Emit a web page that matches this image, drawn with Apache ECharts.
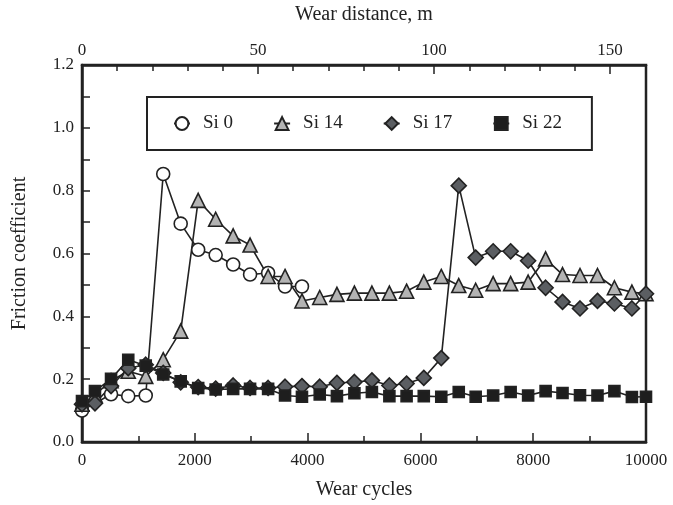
<!DOCTYPE html>
<html>
<head>
<meta charset="utf-8">
<script src="https://cdn.jsdelivr.net/npm/echarts@6/dist/echarts.min.js"></script>
<style>html,body{margin:0;padding:0;background:#fff;}#c{width:673px;height:505px;}</style>
</head>
<body>
<div id="c"></div>
<script>
var cycles = [0, 230, 515, 820, 1130, 1440, 1750, 2060, 2370, 2680, 2980, 3300, 3600, 3900, 4215, 4520, 4830, 5140, 5450, 5755, 6060, 6370, 6680, 6980, 7290, 7600, 7910, 8220, 8520, 8830, 9140, 9440, 9750, 10000];
var si0  = [0.10, null, 0.152, 0.146, 0.148, 0.853, 0.695, 0.612, 0.595, 0.565, 0.533, 0.538, 0.495, 0.495];
var si14 = [0.12, 0.15, 0.195, 0.225, 0.209, 0.262, 0.353, 0.769, 0.709, 0.656, 0.627, 0.527, 0.527, 0.449, 0.46, 0.47, 0.474, 0.474, 0.474, 0.48, 0.509, 0.527, 0.498, 0.483, 0.504, 0.504, 0.509, 0.583, 0.533, 0.53, 0.53, 0.491, 0.477, 0.472];
var si17 = [0.12, 0.123, 0.178, 0.235, 0.246, 0.22, 0.19, 0.175, 0.17, 0.18, 0.172, 0.172, 0.176, 0.178, 0.176, 0.188, 0.191, 0.196, 0.18, 0.186, 0.204, 0.267, 0.816, 0.587, 0.607, 0.607, 0.577, 0.491, 0.446, 0.425, 0.449, 0.441, 0.425, 0.472];
var si22 = [0.13, 0.162, 0.201, 0.262, 0.243, 0.215, 0.193, 0.172, 0.167, 0.169, 0.169, 0.169, 0.148, 0.144, 0.151, 0.146, 0.155, 0.159, 0.146, 0.146, 0.146, 0.144, 0.159, 0.144, 0.148, 0.159, 0.148, 0.162, 0.156, 0.149, 0.148, 0.162, 0.143, 0.144];
var seriesNames = ['Si 0', 'Si 14', 'Si 17', 'Si 22'];
var distanceMax = 160.2;

function pairs(vals) {
  var out = [];
  for (var i = 0; i < vals.length; i++) {
    if (vals[i] !== null && vals[i] !== undefined) out.push([cycles[i], vals[i]]);
  }
  return out;
}

var FONT = 'Liberation Serif';
var INK = '#222';
var styles = [
  {symbol: 'circle', size: 13, fill: '#ffffff'},
  {symbol: 'triangle', size: 14, fill: '#b3b3b3'},
  {symbol: 'diamond', size: 15, fill: '#5b5e62'},
  {symbol: 'rect', size: 11, fill: '#1e1e1e'}
];
var datasets = [si0, si14, si17, si22];

var series = datasets.map(function (d, k) {
  return {
    name: seriesNames[k],
    type: 'line',
    xAxisIndex: 0,
    yAxisIndex: 0,
    data: pairs(d),
    symbol: styles[k].symbol,
    symbolSize: styles[k].size,
    showAllSymbol: true,
    animation: false,
    lineStyle: {color: INK, width: 1.6},
    itemStyle: {color: styles[k].fill, borderColor: INK, borderWidth: 1.6}
  };
});

var chart = echarts.init(document.getElementById('c'), null, {renderer: 'canvas'});
chart.setOption({
  animation: false,
  backgroundColor: '#fff',
  grid: {left: 82, right: 27, top: 63, bottom: 62, show: true, borderColor: INK, borderWidth: 2.5, backgroundColor: 'transparent'},
  legend: {
    left: 147, top: 97,
    data: seriesNames,
    orient: 'horizontal',
    borderColor: INK, borderWidth: 2,
    padding: [17, 30, 17, 26],
    itemWidth: 16, itemHeight: 16, itemGap: 40,
    textStyle: {fontFamily: FONT, fontSize: 19, color: INK, padding: [0, 0, 0, 8]}
  },
  xAxis: [{
    type: 'value', position: 'bottom', min: 0, max: 10000, interval: 2000,
    name: 'Wear cycles', nameLocation: 'middle', nameGap: 38,
    nameTextStyle: {fontFamily: FONT, fontSize: 20, color: INK},
    axisLine: {show: true, lineStyle: {color: INK, width: 2.5}},
    axisTick: {show: true, inside: true, length: 9, lineStyle: {color: INK, width: 1.5}},
    minorTick: {show: true, splitNumber: 2, length: 6, lineStyle: {color: INK, width: 1.5}},
    axisLabel: {fontFamily: FONT, fontSize: 17, color: INK, margin: 10, formatter: function (v) { return String(v); }},
    splitLine: {show: false}
  }, {
    type: 'value', position: 'top', min: 0, max: distanceMax, interval: 50,
    name: 'Wear distance, m', nameLocation: 'middle', nameGap: 40,
    nameTextStyle: {fontFamily: FONT, fontSize: 20, color: INK},
    axisLine: {show: true, lineStyle: {color: INK, width: 2.5}},
    axisTick: {show: true, inside: true, length: 9, lineStyle: {color: INK, width: 1.5}},
    minorTick: {show: true, splitNumber: 5, length: 6, lineStyle: {color: INK, width: 1.5}},
    axisLabel: {fontFamily: FONT, fontSize: 17, color: INK, margin: 6, showMaxLabel: false, formatter: function (v) { return String(v); }},
    splitLine: {show: false}
  }],
  yAxis: [{
    type: 'value', min: 0, max: 1.2, interval: 0.2,
    name: 'Friction coefficient', nameLocation: 'middle', nameGap: 52,
    nameTextStyle: {fontFamily: FONT, fontSize: 20, color: INK},
    axisLine: {show: true, lineStyle: {color: INK, width: 2.5}},
    axisTick: {show: true, inside: true, length: 8, lineStyle: {color: INK, width: 1.5}},
    minorTick: {show: true, splitNumber: 2, length: 8, lineStyle: {color: INK, width: 1.5}},
    axisLabel: {fontFamily: FONT, fontSize: 17, color: INK, margin: 8, formatter: function (v) { return v.toFixed(1); }},
    splitLine: {show: false}
  }],
  series: series
});
</script>
</body>
</html>
